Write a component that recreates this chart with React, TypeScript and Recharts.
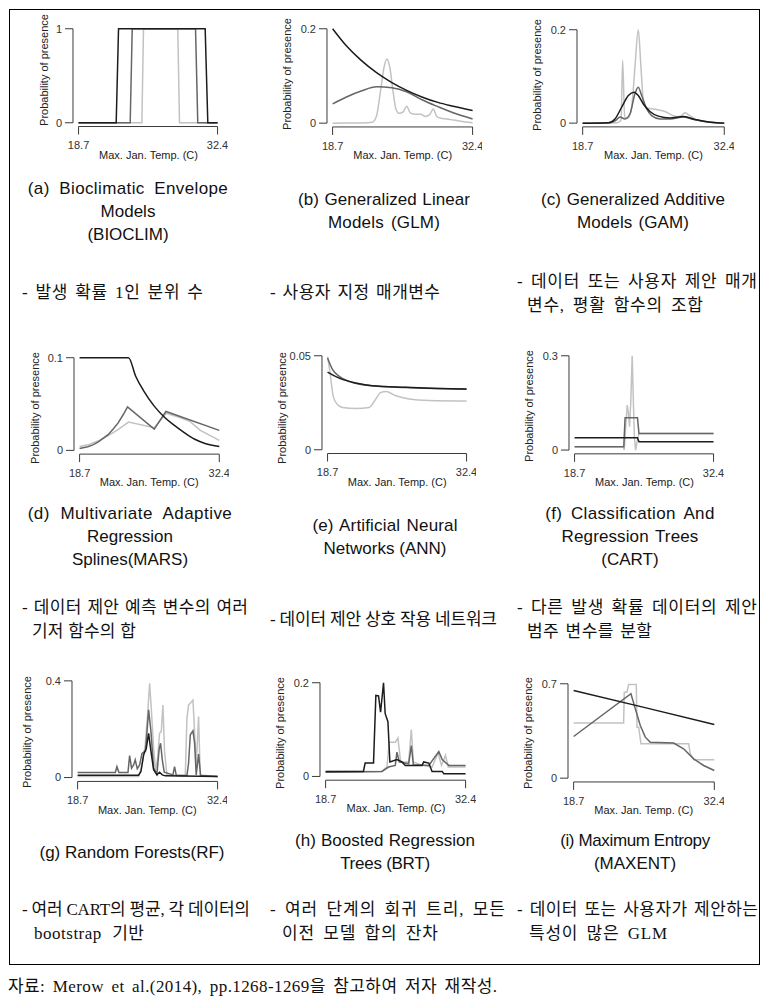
import React from 'react';
import { LineChart, Line, XAxis, YAxis, ReferenceLine } from 'recharts';

type P = [number, number][];

// ---------- axis values / labels ----------
const xMinVal = 18.7;
const xMaxVal = 32.4;
const xTickValues = [18.7, 32.4];
const xTickLabels = ['18.7', '32.4'];
const yTopValues = [1, 0.2, 0.2, 0.1, 0.05, 0.3, 0.4, 0.2, 0.7];
const yTopLabels = ['1', '0.2', '0.2', '0.1', '0.05', '0.3', '0.4', '0.2', '0.7'];
const xAxisTitle = 'Max. Jan. Temp. (C)';
const yAxisTitle = 'Probability of presence';

// ---------- text ----------
const panelTitles: string[][] = [
  ['(a) Bioclimatic Envelope', 'Models', '(BIOCLIM)'],
  ['(b) Generalized Linear', 'Models (GLM)'],
  ['(c) Generalized Additive', 'Models (GAM)'],
  ['(d) Multivariate Adaptive', 'Regression', 'Splines(MARS)'],
  ['(e) Artificial Neural', 'Networks (ANN)'],
  ['(f) Classification And', 'Regression Trees', '(CART)'],
  ['(g) Random Forests(RF)'],
  ['(h) Boosted Regression', 'Trees (BRT)'],
  ['(i) Maximum Entropy', '(MAXENT)'],
];
const panelNotes: string[][] = [
  ['- 발생 확률 1인 분위 수'],
  ['- 사용자 지정 매개변수'],
  ['- 데이터 또는 사용자 제안 매개', '변수, 평활 함수의 조합'],
  ['- 데이터 제안 예측 변수의 여러', '기저 함수의 합'],
  ['- 데이터 제안 상호 작용 네트워크'],
  ['- 다른 발생 확률 데이터의 제안', '범주 변수를 분할'],
  ['- 여러 CART의 평균, 각 데이터의', 'bootstrap 기반'],
  ['- 여러 단계의 회귀 트리, 모든', '이전 모델 합의 잔차'],
  ['- 데이터 또는 사용자가 제안하는', '특성이 많은 GLM'],
];
const sourceNote = '자료: Merow et al.(2014), pp.1268-1269을 참고하여 저자 재작성.';

// ---------- series (x = Max. Jan. Temp., y = probability of presence) ----------
// (a) BIOCLIM
const bioLight: P = [[18.7, 0], [24.94, 0], [25.1, 1], [28.48, 1], [28.65, 0], [32.4, 0]];
const bioMid: P = [[18.7, 0], [23.79, 0], [23.99, 1], [30.23, 1], [30.45, 0], [32.4, 0]];
const bioDark: P = [[18.7, 0], [22.41, 0], [22.64, 1], [31.18, 1], [31.44, 0], [32.4, 0]];
// (b) GLM
const glmLight: P = [[18.7, 0], [21.5, 0.0005], [22.6, 0.002], [23.0, 0.015], [23.4, 0.07], [23.75, 0.12], [24.0, 0.136], [24.3, 0.118], [24.6, 0.07], [24.9, 0.03], [25.2, 0.021], [25.6, 0.024], [25.95, 0.036], [26.3, 0.022], [26.8, 0.019], [27.3, 0.019], [27.8, 0.014], [28.2, 0.018], [28.55, 0.03], [28.9, 0.014], [29.4, 0.01], [30.2, 0.008], [31.2, 0.004], [32.4, 0.001]];
const glmMid: P = [[18.7, 0.041], [20, 0.055], [21.5, 0.068], [23, 0.077], [24.5, 0.075], [26, 0.066], [27.5, 0.049], [29, 0.035], [30.5, 0.022], [32.4, 0.009]];
const glmDark: P = [[18.7, 0.2], [20, 0.165], [21.5, 0.133], [23, 0.107], [24.5, 0.086], [26, 0.069], [27.5, 0.055], [29, 0.044], [30.5, 0.036], [32.4, 0.027]];
// (c) GAM
const gamLight: P = [[18.7, 0], [22.0, 0.001], [22.31, 0.004], [22.41, 0.006], [22.57, 0.134], [22.76, 0.013], [23.12, 0.011], [23.44, 0.034], [23.76, 0.12], [24.08, 0.2], [24.34, 0.12], [24.57, 0.049], [24.89, 0.033], [25.86, 0.029], [26.66, 0.025], [27.47, 0.016], [28.11, 0.014], [28.6, 0.022], [29.08, 0.016], [29.73, 0.007], [31.02, 0.002], [32.4, 0]];
const gamMid: P = [[18.7, 0], [21.34, 0.001], [21.92, 0.006], [22.31, 0.013], [22.79, 0.009], [23.28, 0.02], [23.76, 0.063], [24.08, 0.077], [24.41, 0.059], [24.89, 0.031], [25.37, 0.016], [26.18, 0.009], [27.15, 0.009], [28.44, 0.013], [29.24, 0.009], [30.37, 0.004], [32.4, 0]];
const gamDark: P = [[18.7, 0], [21.18, 0.001], [21.83, 0.009], [22.47, 0.034], [23.12, 0.059], [23.67, 0.066], [24.08, 0.059], [24.57, 0.041], [25.21, 0.025], [26.02, 0.015], [27.15, 0.011], [28.44, 0.014], [29.73, 0.007], [31.02, 0.002], [32.4, 0]];
// (d) MARS
const marsLight: P = [[18.7, 0.0043], [19.5, 0.006], [20.7, 0.011], [21.5, 0.016], [22.36, 0.0216], [23.5, 0.0306], [26.02, 0.0245], [27.17, 0.04], [28.4, 0.036], [29.55, 0.031], [30.54, 0.0216], [32.4, 0.0108]];
const marsMid: P = [[18.7, 0.002], [19.5, 0.004], [20, 0.006], [20.5, 0.009], [21, 0.013], [21.5, 0.017], [22, 0.023], [22.5, 0.03], [23, 0.039], [23.4, 0.047], [26.02, 0.023], [27.17, 0.042], [32.4, 0.0216]];
const marsDark: P = [[18.7, 0.1], [23.5, 0.1], [24.2, 0.08], [25, 0.064], [26, 0.048], [27, 0.036], [28, 0.027], [29, 0.019], [30, 0.012], [31, 0.0075], [32.4, 0.0043]];
// (e) ANN
const annLight: P = [[18.7, 0.0496], [18.93, 0.0417], [19.26, 0.0284], [19.69, 0.0239], [20.18, 0.0225], [21.49, 0.022], [22.8, 0.0225], [23.3, 0.0257], [23.96, 0.0305], [24.45, 0.031], [25.43, 0.0287], [26.75, 0.027], [28.72, 0.0262], [32.4, 0.0259]];
const annMid: P = [[18.7, 0.0488], [19.2, 0.0426], [19.85, 0.039], [20.84, 0.0363], [23.13, 0.034], [26.4, 0.0331], [32.4, 0.0322]];
const annDark: P = [[18.7, 0.0413], [19.85, 0.0381], [21.49, 0.0355], [23.13, 0.034], [26.4, 0.0332], [29.5, 0.0326], [32.4, 0.0323]];
// (f) CART
const cartLight: P = [[18.7, 0.0106], [23.5, 0.0106], [23.6, 0], [23.75, 0.08], [23.89, 0.143], [24.0, 0.12], [24.12, 0.074], [24.25, 0.16], [24.38, 0.3], [24.5, 0.15], [24.6, 0.04], [24.72, 0], [24.88, 0.03], [25.05, 0.053], [32.4, 0.053]];
const cartMid: P = [[18.7, 0.0106], [23.55, 0.0106], [23.68, 0.103], [24.9, 0.103], [25.05, 0.053], [32.4, 0.053]];
const cartDark: P = [[18.7, 0.039], [24.9, 0.039], [25.05, 0.0265], [32.4, 0.0265]];
// (g) RF
const rfLight: P = [[18.7, 0.004], [24.67, 0.004], [25.0, 0.052], [25.32, 0.135], [25.55, 0.26], [25.75, 0.39], [25.91, 0.287], [26.14, 0.121], [26.33, 0.028], [26.53, 0.08], [26.72, 0.183], [26.89, 0.19], [27.05, 0.3], [27.21, 0.108], [27.44, 0.011], [29.24, 0.008], [29.4, 0.245], [29.56, 0.3], [29.99, 0.32], [30.15, 0.19], [30.31, 0.052], [30.54, 0.252], [30.7, 0.011], [32.4, 0.004]];
const rfMid: P = [[18.7, 0.0207], [22.39, 0.0207], [22.55, 0.045], [22.74, 0.0207], [23.63, 0.0207], [23.79, 0.091], [23.98, 0.039], [24.18, 0.052], [24.34, 0.073], [24.54, 0.036], [24.77, 0.052], [25.0, 0.1], [25.35, 0.11], [25.65, 0.28], [25.88, 0.19], [26.14, 0.039], [26.46, 0.014], [26.69, 0.12], [26.82, 0.142], [26.99, 0.073], [27.18, 0.022], [28.03, 0.011], [28.19, 0.045], [28.36, 0.008], [29.4, 0.008], [29.56, 0.059], [29.73, 0.177], [29.99, 0.193], [30.15, 0.142], [30.31, 0.011], [30.54, 0.097], [30.74, 0.008], [32.4, 0.004]];
const rfDark: P = [[18.7, 0.0097], [24.67, 0.0097], [24.9, 0.025], [25.16, 0.094], [25.42, 0.121], [25.65, 0.183], [25.88, 0.108], [26.14, 0.032], [26.46, 0.011], [26.72, 0.022], [26.99, 0.011], [27.28, 0.007], [32.4, 0.004]];
// (h) BRT
const brtLight: P = [[18.7, 0.0107], [24.21, 0.0107], [24.7, 0.02], [24.93, 0.073], [25.52, 0.073], [25.78, 0.082], [26.04, 0.031], [26.83, 0.031], [27.09, 0.1], [27.29, 0.031], [27.98, 0.025], [29.12, 0.02], [29.71, 0.05], [30.04, 0.0235], [30.43, 0.045], [30.7, 0.02], [32.4, 0.02]];
const brtMid: P = [[18.7, 0.009], [24.21, 0.0107], [24.86, 0.02], [25.52, 0.0235], [25.68, 0.052], [25.91, 0.031], [26.83, 0.027], [27.09, 0.066], [27.29, 0.025], [28.8, 0.0235], [29.78, 0.053], [30.11, 0.036], [30.76, 0.0235], [32.4, 0.0235]];
const brtDark: P = [[18.7, 0.0107], [22.4, 0.0107], [22.57, 0.0285], [23.39, 0.0285], [23.62, 0.173], [23.88, 0.172], [24.08, 0.137], [24.37, 0.2], [24.53, 0.134], [24.8, 0.117], [24.99, 0.031], [25.68, 0.036], [26.17, 0.031], [26.5, 0.0235], [28.14, 0.0235], [28.3, 0.031], [28.8, 0.0285], [29.12, 0.0107], [30.11, 0.0107], [30.27, 0.0057], [32.4, 0.0057]];
// (i) MAXENT
const maxLight: P = [[18.7, 0.41], [23.57, 0.41], [23.63, 0.638], [23.89, 0.638], [24.06, 0.695], [24.8, 0.695], [24.87, 0.378], [25.03, 0.378], [25.26, 0.255], [29.9, 0.255], [30.06, 0.18], [30.39, 0.136], [32.4, 0.136]];
const maxMid: P = [[18.7, 0.309], [24.28, 0.626], [24.71, 0.514], [25.19, 0.39], [25.68, 0.304], [26.17, 0.267], [28.44, 0.26], [29.41, 0.218], [30.39, 0.143], [31.36, 0.094], [32.4, 0.057]];
const maxDark: P = [[18.7, 0.65], [25.55, 0.525], [32.4, 0.398]];

type Curve = 'linear' | 'monotone';
const panelSeries: { light: P; mid: P; dark: P; curve: [Curve, Curve, Curve] }[] = [
  { light: bioLight, mid: bioMid, dark: bioDark, curve: ['linear', 'linear', 'linear'] },
  { light: glmLight, mid: glmMid, dark: glmDark, curve: ['monotone', 'monotone', 'monotone'] },
  { light: gamLight, mid: gamMid, dark: gamDark, curve: ['monotone', 'monotone', 'monotone'] },
  { light: marsLight, mid: marsMid, dark: marsDark, curve: ['linear', 'linear', 'monotone'] },
  { light: annLight, mid: annMid, dark: annDark, curve: ['monotone', 'monotone', 'monotone'] },
  { light: cartLight, mid: cartMid, dark: cartDark, curve: ['linear', 'linear', 'linear'] },
  { light: rfLight, mid: rfMid, dark: rfDark, curve: ['linear', 'linear', 'linear'] },
  { light: brtLight, mid: brtMid, dark: brtDark, curve: ['linear', 'linear', 'linear'] },
  { light: maxLight, mid: maxMid, dark: maxDark, curve: ['linear', 'linear', 'linear'] },
];

// ---------- layout (page pixels) ----------
const layouts = [
  { px18: 79, px32: 218, pyMax: 29, py0: 123, yOff: 29, yDy: -6 },
  { px18: 332.7, px32: 472.7, pyMax: 28.3, py0: 122.7, yOff: 40, yDy: -1.5 },
  { px18: 582.7, px32: 724.3, pyMax: 29.3, py0: 122.7, yOff: 40, yDy: -1 },
  { px18: 79.3, px32: 219, pyMax: 357.3, py0: 450, yOff: 39, yDy: 4.5 },
  { px18: 327.7, px32: 466.7, pyMax: 356, py0: 450, yOff: 40, yDy: 4.5 },
  { px18: 575, px32: 714, pyMax: 355.7, py0: 450, yOff: 40, yDy: 3 },
  { px18: 77.3, px32: 217.3, pyMax: 681, py0: 777.7, yOff: 45, yDy: 2.4 },
  { px18: 326, px32: 466, pyMax: 682.3, py0: 776, yOff: 40, yDy: 4.3 },
  { px18: 573.3, px32: 714, pyMax: 683.3, py0: 777.7, yOff: 40, yDy: 2.8 },
];
// title blocks: centre x, first-line centre y, target width per line (0 = natural)
const titleBlocks = [
  { cx: 128, y: 188, w: [200, 0, 0] },
  { cx: 384, y: 199, w: [172, 112] },
  { cx: 633, y: 199, w: [185, 112] },
  { cx: 130, y: 513, w: [205, 0, 0] },
  { cx: 385, y: 525, w: [146, 123] },
  { cx: 630, y: 513, w: [170, 137, 0] },
  { cx: 132, y: 852, w: [185] },
  { cx: 385, y: 840, w: [180, 90] },
  { cx: 635, y: 840, w: [150, 0] },
];
// note blocks: left x, first-line centre y, target width per line
const noteBlocks = [
  { x: 22, y: 293, w: [181] },
  { x: 270, y: 293, w: [170] },
  { x: 517, y: 282, w: [240, 176] },
  { x: 22, y: 608, w: [226, 104] },
  { x: 270, y: 620, w: [227] },
  { x: 517, y: 608, w: [240, 125] },
  { x: 22, y: 910, w: [228, 110] },
  { x: 270, y: 910, w: [235, 156] },
  { x: 517, y: 910, w: [241, 138] },
];

const COL_LIGHT = '#c2c2c2';
const COL_MID = '#666666';
const COL_DARK = '#1c1c1c';
const AX = '"Liberation Sans", Arial, sans-serif';
const TITLE_FONT = '"Liberation Sans", "Noto Sans CJK KR", sans-serif';
const NOTE_FONT = '"Liberation Serif", "Noto Sans CJK KR", serif';
const TITLE_SIZE = 17;
const NOTE_SIZE = 17;

const toObjs = (p: P) => p.map(([x, y]) => ({ x, y }));

let measureCtx: CanvasRenderingContext2D | null = null;
function textWidth(t: string, font: string): number {
  if (!measureCtx) {
    const c = document.createElement('canvas');
    measureCtx = c.getContext('2d');
  }
  if (!measureCtx) return 0;
  measureCtx.font = font;
  return measureCtx.measureText(t).width;
}

function fitSpacing(text: string, target: number, size: number, family: string) {
  if (!target) return { letterSpacing: 0, wordSpacing: 0 };
  const natural = textWidth(text, `${size}px ${family}`);
  if (!natural) return { letterSpacing: 0, wordSpacing: 0 };
  const extra = target - natural;
  const n = Array.from(text).length;
  const spaces = (text.match(/ /g) || []).length;
  if (extra <= 0 || spaces === 0) {
    return { letterSpacing: extra / Math.max(1, n - 1), wordSpacing: 0 };
  }
  return { letterSpacing: (extra * 0.5) / Math.max(1, n - 1), wordSpacing: (extra * 0.5) / spaces };
}

function Panel({ i }: { i: number }) {
  const L = layouts[i];
  const s = panelSeries[i];
  const yTop = yTopValues[i];
  const dxp = L.px32 - L.px18;
  const dyp = L.py0 - L.pyMax;
  const plotLeft = L.px18 - 0.04 * dxp;
  const plotW = 1.08 * dxp;
  const plotTop = L.pyMax - 0.04 * dyp;
  const plotH = 1.08 * dyp;
  const yw = 44;
  const xh = 30;
  const mt = 4;
  const mr = 4;
  const W = yw + plotW + mr;
  const H = mt + plotH + xh;
  const span = xMaxVal - xMinVal;
  const xd: [number, number] = [xMinVal - 0.04 * span, xMaxVal + 0.04 * span];
  const yd: [number, number] = [-0.04 * yTop, 1.04 * yTop];
  const axisStroke = '#3a3a3a';
  const lines: [P, string, Curve][] = [
    [s.light, COL_LIGHT, s.curve[0]],
    [s.mid, COL_MID, s.curve[1]],
    [s.dark, COL_DARK, s.curve[2]],
  ];
  return (
    <>
      <div style={{ position: 'absolute', left: plotLeft - yw, top: plotTop - mt }}>
        <LineChart width={W} height={H} margin={{ top: mt, right: mr, bottom: 0, left: 0 }}>
          <XAxis
            type="number"
            dataKey="x"
            domain={xd}
            allowDataOverflow
            ticks={xTickValues}
            interval={0}
            height={xh}
            axisLine={false}
            tickLine={{ stroke: axisStroke }}
            tickSize={8}
            tickMargin={7}
            tick={{ fill: '#333', fontSize: 11, fontFamily: AX }}
            tickFormatter={(v: number) => xTickLabels[xTickValues.indexOf(v)] ?? String(v)}
          />
          <YAxis
            type="number"
            dataKey="y"
            domain={yd}
            allowDataOverflow
            ticks={[0, yTop]}
            interval={0}
            width={yw}
            axisLine={false}
            tickLine={{ stroke: axisStroke }}
            tickSize={8}
            tickMargin={3}
            tick={{ fill: '#333', fontSize: 11, fontFamily: AX }}
            tickFormatter={(v: number) => (v === 0 ? '0' : yTopLabels[i])}
          />
          <ReferenceLine
            segment={[{ x: xd[0], y: 0 }, { x: xd[0], y: yTop }]}
            stroke={axisStroke}
            strokeWidth={1}
            ifOverflow="visible"
          />
          <ReferenceLine
            segment={[{ x: xMinVal, y: yd[0] }, { x: xMaxVal, y: yd[0] }]}
            stroke={axisStroke}
            strokeWidth={1}
            ifOverflow="visible"
          />
          {lines.map(([pts, col, curve], k) => (
            <Line
              key={k}
              data={toObjs(pts)}
              dataKey="y"
              type={curve}
              stroke={col}
              strokeWidth={1.5}
              dot={false}
              activeDot={false}
              isAnimationActive={false}
            />
          ))}
        </LineChart>
      </div>
      <div
        style={{
          position: 'absolute',
          left: plotLeft - L.yOff,
          top: plotTop + plotH / 2 + L.yDy,
          transform: 'translate(-50%, -50%) rotate(-90deg)',
          fontFamily: AX,
          fontSize: 11,
          color: '#222',
          whiteSpace: 'nowrap',
          lineHeight: 1,
        }}
      >
        {yAxisTitle}
      </div>
      <div
        style={{
          position: 'absolute',
          left: (L.px18 + L.px32) / 2,
          top: plotTop + plotH + 28.5,
          transform: 'translate(-50%, -50%)',
          fontFamily: AX,
          fontSize: 11,
          color: '#222',
          whiteSpace: 'nowrap',
          lineHeight: 1,
        }}
      >
        {xAxisTitle}
      </div>
    </>
  );
}

function Title({ i }: { i: number }) {
  const b = titleBlocks[i];
  const boxW = 260;
  return (
    <div
      style={{
        position: 'absolute',
        left: b.cx - boxW / 2,
        width: boxW,
        top: b.y - 11.5,
        textAlign: 'center',
        fontFamily: TITLE_FONT,
        fontSize: TITLE_SIZE,
        lineHeight: '23px',
        color: '#111',
      }}
    >
      {panelTitles[i].map((t, k) => {
        const sp = fitSpacing(t, b.w[k] || 0, TITLE_SIZE, TITLE_FONT);
        return (
          <div key={k} style={{ whiteSpace: 'nowrap', letterSpacing: sp.letterSpacing, wordSpacing: sp.wordSpacing }}>
            {t}
          </div>
        );
      })}
    </div>
  );
}

function Note({ i }: { i: number }) {
  const b = noteBlocks[i];
  return (
    <div
      style={{
        position: 'absolute',
        left: b.x,
        top: b.y - 12,
        fontFamily: NOTE_FONT,
        fontSize: NOTE_SIZE,
        lineHeight: '24px',
        color: '#111',
      }}
    >
      {panelNotes[i].map((t, k) => {
        const sp = fitSpacing(t, b.w[k] || 0, NOTE_SIZE, NOTE_FONT);
        return (
          <div
            key={k}
            style={{
              whiteSpace: 'nowrap',
              paddingLeft: k === 0 ? 0 : i >= 6 ? 12 : 10,
              letterSpacing: sp.letterSpacing,
              wordSpacing: sp.wordSpacing,
            }}
          >
            {t}
          </div>
        );
      })}
    </div>
  );
}

export default function App() {
  const idx = [0, 1, 2, 3, 4, 5, 6, 7, 8];
  const srcSp = fitSpacing(sourceNote, 489, 17, NOTE_FONT);
  return (
    <div style={{ position: 'absolute', left: 0, top: 0, width: 767, height: 1003, background: '#fff' }}>
      <div
        style={{
          position: 'absolute',
          left: 9,
          top: 9,
          width: 751,
          height: 956,
          border: '1px solid #000',
          boxSizing: 'border-box',
        }}
      />
      {idx.map((i) => (
        <Panel key={'p' + i} i={i} />
      ))}
      {idx.map((i) => (
        <Title key={'t' + i} i={i} />
      ))}
      {idx.map((i) => (
        <Note key={'n' + i} i={i} />
      ))}
      <div
        style={{
          position: 'absolute',
          left: 8,
          top: 987 - 12,
          fontFamily: NOTE_FONT,
          fontSize: 17,
          lineHeight: '24px',
          letterSpacing: srcSp.letterSpacing,
          wordSpacing: srcSp.wordSpacing,
          whiteSpace: 'nowrap',
          color: '#111',
        }}
      >
        {sourceNote}
      </div>
    </div>
  );
}
